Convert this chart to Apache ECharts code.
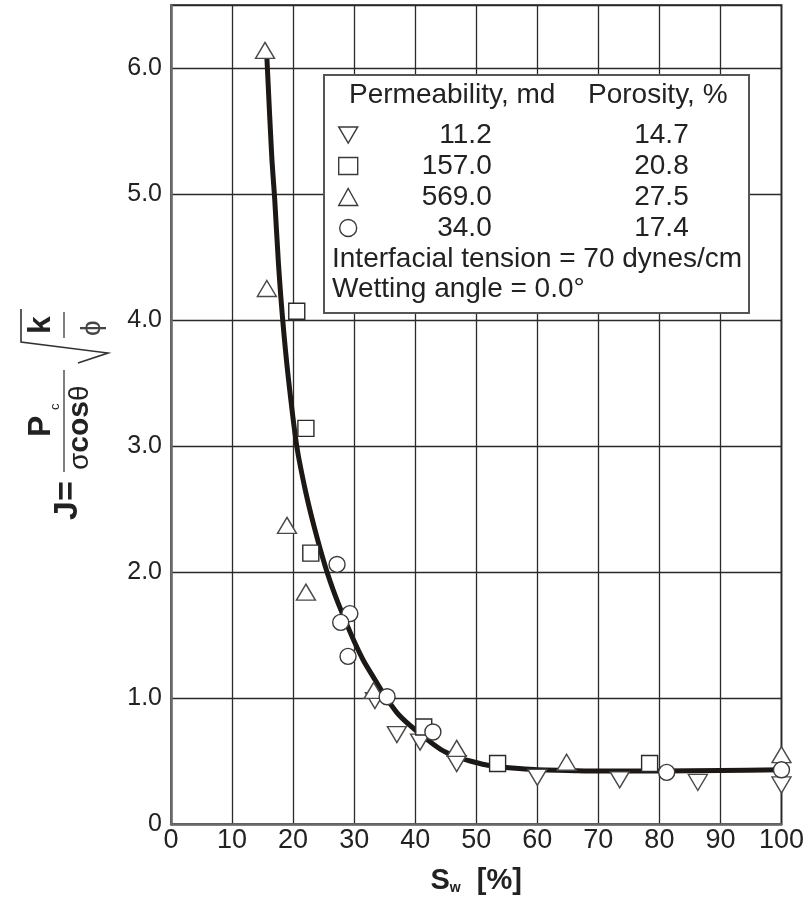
<!DOCTYPE html>
<html>
<head>
<meta charset="utf-8">
<script src="https://cdn.jsdelivr.net/npm/echarts@6/dist/echarts.min.js"></script>
<style>
html, body { margin: 0; padding: 0; background: #fff; }
#main { width: 807px; height: 900px; }
</style>
</head>
<body>
<div id="main"></div>
<script>
// J-function vs water saturation, four cores
const perm = ['11.2', '157.0', '569.0', '34.0'];
const poro = ['14.7', '20.8', '27.5', '17.4'];

// [Sw %, J]
const k11 = [[33.4, 0.98], [37.0, 0.71], [40.8, 0.65], [46.8, 0.48], [60.0, 0.37], [73.5, 0.35], [86.3, 0.33], [100, 0.31]];
const k157 = [[20.6, 4.07], [22.1, 3.14], [22.9, 2.15], [41.4, 0.77], [53.5, 0.48], [78.4, 0.48]];
const k569 = [[15.4, 6.14], [15.7, 4.25], [19.0, 2.37], [22.1, 1.84], [33.2, 1.06], [46.8, 0.60], [64.8, 0.49], [100, 0.55]];
const k34 = [[27.2, 2.06], [29.3, 1.67], [27.8, 1.60], [29.0, 1.33], [35.4, 1.01], [42.9, 0.73], [81.2, 0.41], [100, 0.43]];

// hand drawn average curve
const fitCurve = [[15.7, 6.09], [16.5, 5.30], [17.0, 4.95], [17.6, 4.45], [18.3, 4.00], [19.2, 3.55],
    [20.6, 3.00], [22.0, 2.65], [23.5, 2.35], [25.3, 2.04], [27.0, 1.80], [28.5, 1.62], [30.0, 1.45],
    [31.5, 1.30], [33.1, 1.17], [35.0, 1.02], [36.9, 0.89], [38.5, 0.81], [40.2, 0.74], [42.5, 0.65],
    [44.6, 0.58], [47.0, 0.53], [49.0, 0.50], [51.5, 0.47], [53.8, 0.455], [57, 0.44], [60, 0.43],
    [65, 0.425], [70, 0.42], [80, 0.42], [90, 0.425], [100, 0.43]];

const FONT = '"Liberation Sans", Arial, sans-serif';
const NARROW = '"Liberation Sans Narrow", "Liberation Sans", Arial, sans-serif';
const TXT = '#222';

const chart = echarts.init(document.getElementById('main'));

function scatter(name, data, symbol, size, border) {
    return {
        name: name,
        type: 'scatter',
        data: data,
        symbol: symbol,
        symbolSize: size,
        itemStyle: { color: '#fff', borderColor: border, borderWidth: 1.4, opacity: 1 },
        emphasis: { disabled: true },
        z: 5
    };
}

const downTri = 'path://M0,0L20,0L10,17Z';

// y axis title: J = Pc / (σ cosθ) * sqrt(k/φ), drawn rotated
const yTitle = {
    type: 'group',
    x: 0,
    y: 900,
    rotation: Math.PI / 2,
    children: [
        { type: 'text', x: 380, y: 68, z: 11, style: { text: 'J=', font: 'bold 34px ' + NARROW, fill: TXT, align: 'left', verticalAlign: 'middle' } },
        { type: 'text', x: 463, y: 41, z: 11, style: { text: 'P', font: 'bold 32px ' + NARROW, fill: TXT, align: 'left', verticalAlign: 'middle' } },
        { type: 'text', x: 490, y: 55, z: 11, style: { text: 'c', font: '13px ' + FONT, fill: TXT, align: 'left', verticalAlign: 'middle' } },
        { type: 'line', z: 11, shape: { x1: 428, y1: 64, x2: 530, y2: 64 }, style: { stroke: '#555', lineWidth: 1.5 } },
        {
            type: 'text', x: 430, y: 80, z: 11,
            style: {
                text: '{r|σ}{b|cos}{r|θ}', fill: TXT, align: 'left', verticalAlign: 'middle',
                rich: {
                    r: { fontSize: 28, fontFamily: FONT, fill: TXT },
                    b: { fontSize: 30, fontWeight: 'bold', fontFamily: NARROW, fill: TXT }
                }
            }
        },
        { type: 'text', x: 566, y: 41, z: 11, style: { text: 'k', font: 'bold 32px ' + NARROW, fill: TXT, align: 'left', verticalAlign: 'middle' } },
        { type: 'line', z: 11, shape: { x1: 562, y1: 64, x2: 588, y2: 64 }, style: { stroke: '#555', lineWidth: 1.5 } },
        { type: 'text', x: 564, y: 92, z: 11, style: { text: 'ϕ', font: '28px ' + FONT, fill: '#444', align: 'left', verticalAlign: 'middle' } }
    ]
};

// radical sign
const radical = {
    type: 'polyline',
    z: 11,
    shape: { points: [[78, 363], [108, 353], [21, 342], [21, 309]] },
    style: { stroke: '#333', lineWidth: 1.6, fill: null }
};

const option = {
    animation: false,
    backgroundColor: '#fff',
    grid: {
        left: 171,
        right: 25,
        top: 5,
        bottom: 76,
        show: true,
        borderColor: '#555',
        borderWidth: 2
    },
    xAxis: {
        type: 'value',
        min: 0,
        max: 100,
        interval: 10,
        name: '{b|S}{s|w}{b|  [%]}',
        nameLocation: 'middle',
        nameGap: 42,
        nameTextStyle: {
            rich: {
                b: { fontSize: 29, fontWeight: 'bold', fontFamily: FONT, color: TXT },
                s: { fontSize: 14, fontWeight: 'bold', fontFamily: FONT, color: TXT, verticalAlign: 'bottom' }
            }
        },
        axisLine: { lineStyle: { color: '#6a6a6a', width: 2.5 } },
        axisTick: { show: false },
        axisLabel: { fontSize: 27, fontFamily: NARROW, color: TXT, margin: 3 },
        splitLine: { lineStyle: { color: '#2a2a2a', width: 1.3 } }
    },
    yAxis: {
        type: 'value',
        min: 0,
        max: 6.5,
        interval: 1,
        axisLine: { show: true, lineStyle: { color: '#6a6a6a', width: 2.5 } },
        axisTick: { show: false },
        axisLabel: {
            fontSize: 25,
            fontFamily: FONT,
            color: TXT,
            margin: 9,
            formatter: v => (v === 0 ? '0' : (v % 1 === 0 ? v.toFixed(1) : ''))
        },
        splitLine: { lineStyle: { color: '#2a2a2a', width: 1.3 } }
    },
    legend: {
        data: perm,
        orient: 'vertical',
        left: 333,
        top: 116,
        itemWidth: 19,
        itemHeight: 17,
        itemGap: 3,
        selectedMode: false,
        z: 20,
        itemStyle: { color: '#fff', borderColor: '#3a3a3a', borderWidth: 1.4 },
        formatter: name => '{a|' + name + '}{b|' + poro[perm.indexOf(name)] + '}',
        textStyle: {
            rich: {
                a: { width: 129, align: 'right', fontSize: 28, fontFamily: FONT, color: TXT },
                b: { width: 197, align: 'right', fontSize: 28, fontFamily: FONT, color: TXT }
            }
        }
    },
    graphic: [
        { type: 'rect', z: 10, shape: { x: 324, y: 75, width: 425, height: 238 }, style: { fill: '#fff', stroke: '#555', lineWidth: 2 } },
        { type: 'text', z: 11, x: 349, y: 95, style: { text: 'Permeability, md', font: '28px ' + FONT, fill: TXT, verticalAlign: 'middle' } },
        { type: 'text', z: 11, x: 588, y: 95, style: { text: 'Porosity, %', font: '28px ' + FONT, fill: TXT, verticalAlign: 'middle' } },
        { type: 'text', z: 11, x: 332, y: 259, style: { text: 'Interfacial tension = 70 dynes/cm', font: '28px ' + FONT, fill: TXT, verticalAlign: 'middle' } },
        { type: 'text', z: 11, x: 332, y: 289, style: { text: 'Wetting angle = 0.0°', font: '28px ' + FONT, fill: TXT, verticalAlign: 'middle' } },
        yTitle,
        radical
    ],
    series: [
        {
            name: 'fit',
            type: 'line',
            data: fitCurve,
            smooth: 0.3,
            showSymbol: false,
            lineStyle: { color: '#1c1815', width: 5 },
            emphasis: { disabled: true },
            z: 3
        },
        scatter(perm[0], k11, downTri, [19, 16], '#4a4a4a'),
        scatter(perm[1], k157, 'rect', 16, '#2a2a2a'),
        scatter(perm[2], k569, 'triangle', [19, 16], '#4a4a4a'),
        scatter(perm[3], k34, 'circle', 16, '#3a3a3a')
    ]
};

chart.setOption(option);
</script>
</body>
</html>
